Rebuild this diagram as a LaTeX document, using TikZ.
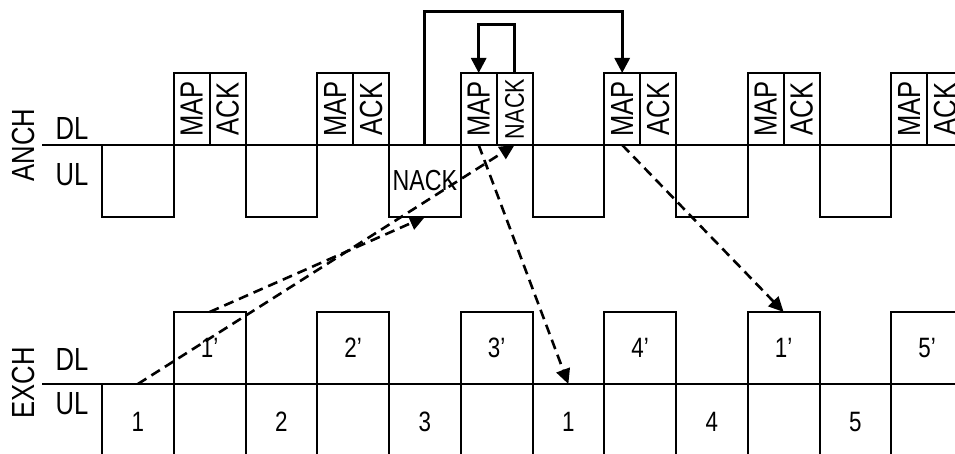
\documentclass[tikz,border=0pt]{standalone}
\usepackage{fontspec}
\setmainfont{Liberation Sans}[FakeStretch=0.8]
\usetikzlibrary{arrows.meta}

\tikzset{
  box/.style={draw, line width=1pt, inner sep=0pt, outer sep=0pt},
  halfbox/.style={box, minimum width=17.94pt, minimum height=36pt, font=\fontsize{16}{19}\selectfont},
  slotbox/.style={box, minimum width=35.875pt, minimum height=36pt, font=\fontsize{14.5}{17}\selectfont},
  lowbox/.style={box, minimum width=35.875pt, minimum height=38pt, font=\fontsize{14}{17}\selectfont},
  rowlabel/.style={font=\fontsize{16}{19}\selectfont, inner sep=0pt},
  dasharrow/.style={line width=1.3pt, dash pattern=on 5pt off 3pt, -{Triangle[width=7pt,length=7.5pt]}},
  loopline/.style={line width=1.5pt, -{Triangle[width=7.5pt,length=7.5pt]}}
}

\begin{document}
\begin{tikzpicture}[x=0.5pt, y=-0.5pt]
  \useasboundingbox (0,0) rectangle (955,454);
  \clip (0,0) rectangle (955,454);

  % row labels
  \node[rowlabel, rotate=90] (anch) at (23,145) {ANCH};
  \node[rowlabel] (anchdl) at (72,128) {DL};
  \node[rowlabel] (anchul) at (72,175) {UL};
  \node[rowlabel, rotate=90] (exch) at (23,383) {EXCH};
  \node[rowlabel] (exchdl) at (72,359) {DL};
  \node[rowlabel] (exchul) at (72,404) {UL};

  % base lines
  \draw[line width=1pt] (42,145) -- (955,145);
  \draw[line width=1pt] (42,384) -- (955,384);

  % ANCH: uplink slots below the line
  \foreach \k/\txt in {0/{},2/{},4/NACK,6/{},8/{},10/{}}
    \node[slotbox, anchor=north west] (aul\k) at ({102+71.75*\k},145) {\txt};

  % ANCH: downlink slots, MAP + ACK/NACK
  \foreach \k/\txt in {1/ACK,3/ACK,5/{\fontsize{13.5}{16}\selectfont NACK},7/ACK,9/ACK,11/ACK} {
    \node[halfbox, anchor=south west] (amap\k) at ({102+71.75*\k},145) {\rotatebox{90}{MAP}};
    \node[halfbox, anchor=south west] (aack\k) at (amap\k.south east) {\rotatebox{90}{\txt}};
  }

  % EXCH: uplink slots
  \foreach \k/\txt in {0/1,1/{},2/2,3/{},4/3,5/{},6/1,7/{},8/4,9/{},10/5,11/{}}
    \node[lowbox, anchor=north west] (eul\k) at ({102+71.75*\k},384) {\txt};

  % EXCH: downlink slots
  \foreach \k/\txt in {1/1’,3/2’,5/3’,7/4’,9/1’,11/5’}
    \node[lowbox, minimum height=36pt, anchor=south west] (edl\k) at ({102+71.75*\k},384) {\txt};

  % retransmission loops
  \draw[loopline] (aul4.north) |- ([yshift=30.5pt]amap7.north) -- (amap7.north);
  \draw[loopline] (aack5.north) -- ([yshift=24pt]aack5.north) -| (amap5.north);

  % messages between the two nodes
  \draw[dasharrow] (eul0.north) -- (aack5.south);
  \draw[dasharrow] (edl1.north) -- (aul4.south);
  \draw[dasharrow] (amap5.south) -- (eul6.north);
  \draw[dasharrow] (amap7.south) -- (edl9.north);
\end{tikzpicture}
\end{document}
